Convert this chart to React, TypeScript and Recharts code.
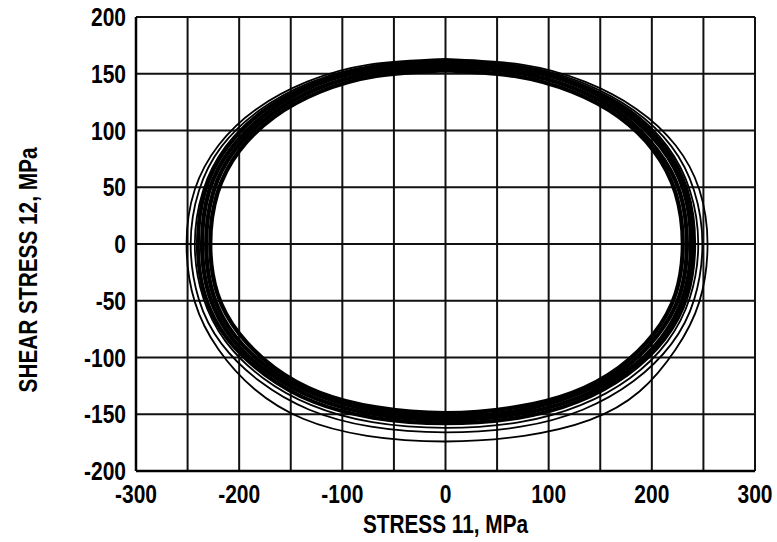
import { ScatterChart, Scatter, XAxis, YAxis, CartesianGrid } from 'recharts';

// axis ticks (gridlines every 50, x labels every 100)
const X_TICKS = [-300, -250, -200, -150, -100, -50, 0, 50, 100, 150, 200, 250, 300];
const X_LABELED = [-300, -200, -100, 0, 100, 200, 300];
const Y_TICKS = [-200, -150, -100, -50, 0, 50, 100, 150, 200];

const BAND_1: [number, number][] = [
  [0, 153], [67, 148], [123, 134], [168, 112], [202, 82], [223, 45], [230, 0],
  [223, -44], [202, -79], [168, -109], [123, -131], [67, -144], [0, -149],
  [-67, -144], [-122, -131], [-166, -109], [-200, -79], [-221, -44], [-228, 0],
  [-221, 45], [-200, 82], [-166, 112], [-122, 134], [-67, 148], [0, 153],
];
const BAND_2: [number, number][] = [
  [0, 156], [69, 151], [125, 137], [171, 114], [205, 83], [227, 46], [234, 0],
  [227, -45], [205, -81], [171, -111], [125, -133], [69, -147], [0, -152],
  [-68, -147], [-124, -133], [-169, -111], [-204, -81], [-225, -45], [-232, 0],
  [-225, 46], [-204, 83], [-169, 114], [-124, 137], [-68, 151], [0, 156],
];
const BAND_3: [number, number][] = [
  [0, 159], [70, 154], [127, 140], [174, 116], [209, 85], [231, 47], [238, 0],
  [231, -45], [209, -83], [174, -113], [127, -136], [70, -150], [0, -155],
  [-69, -150], [-126, -136], [-172, -113], [-207, -83], [-229, -45], [-236, 0],
  [-229, 47], [-207, 85], [-172, 116], [-126, 140], [-69, 154], [0, 159],
];
const BAND_4: [number, number][] = [
  [0, 161], [71, 156], [128, 141], [176, 118], [212, 86], [234, 47], [241, 0],
  [234, -46], [212, -84], [176, -115], [128, -139], [71, -153], [0, -158],
  [-70, -153], [-128, -139], [-175, -115], [-211, -84], [-233, -46], [-240, 0],
  [-233, 47], [-211, 86], [-175, 118], [-128, 141], [-70, 156], [0, 161],
];
const OUTER_1: [number, number][] = [
  [0, 161], [72, 156], [131, 141], [179, 118], [215, 86], [237, 47], [245, 0],
  [237, -47], [215, -86], [179, -118], [131, -142], [72, -157], [0, -162],
  [-71, -157], [-130, -142], [-177, -118], [-213, -86], [-235, -47], [-243, 0],
  [-235, 47], [-213, 86], [-177, 118], [-130, 141], [-71, 156], [0, 161],
];
const OUTER_2: [number, number][] = [
  [0, 162], [73, 157], [133, 142], [182, 118], [219, 86], [241, 47], [249, 0],
  [241, -49], [219, -88], [182, -121], [133, -146], [73, -161], [0, -166],
  [-72, -161], [-132, -146], [-180, -121], [-217, -88], [-239, -49], [-247, 0],
  [-239, 47], [-217, 86], [-180, 118], [-132, 142], [-72, 157], [0, 162],
];
const OUTER_3: [number, number][] = [
  [0, 163], [74, 158], [135, 143], [185, 119], [223, 87], [246, 48], [254, 0],
  [246, -51], [223, -93], [188, -130], [140, -155], [76, -169], [0, -174],
  [-76, -169], [-138, -154], [-185, -128], [-220, -93], [-243, -51], [-251, 0],
  [-243, 48], [-220, 87], [-183, 119], [-134, 143], [-74, 158], [0, 163],
];

const LOOPS = [
  { name: 'band1', pts: BAND_1, width: 4.2 },
  { name: 'band2', pts: BAND_2, width: 4.2 },
  { name: 'band3', pts: BAND_3, width: 4.2 },
  { name: 'band4', pts: BAND_4, width: 4 },
  { name: 'outer1', pts: OUTER_1, width: 1.8 },
  { name: 'outer2', pts: OUTER_2, width: 1.8 },
  { name: 'outer3', pts: OUTER_3, width: 1.8 },
];

// no narrow face installed, so squeeze Liberation Sans Bold horizontally
const FONT = '"Liberation Sans", Arial, sans-serif';
const SQUEEZE = 0.8;
const TICK_SQUEEZE = 0.84;

const noDot = () => <g />;

const XTick = ({ x, y, payload }: any) => {
  if (!X_LABELED.includes(payload.value)) return <g />;
  return (
    <g transform={`translate(${x},${y})`}>
      <text
        transform={`scale(${TICK_SQUEEZE},1)`}
        y={20}
        textAnchor="middle"
        fontFamily={FONT}
        fontSize={25}
        fontWeight={700}
        fill="#000"
      >
        {String(payload.value)}
      </text>
    </g>
  );
};

const YTick = ({ x, y, payload }: any) => (
  <g transform={`translate(${x},${y})`}>
    <text
      transform={`scale(${TICK_SQUEEZE},1)`}
      y={9}
      textAnchor="end"
      fontFamily={FONT}
      fontSize={25}
      fontWeight={700}
      fill="#000"
    >
      {String(payload.value)}
    </text>
  </g>
);

const XTitle = ({ viewBox }: any) => (
  <g transform={`translate(${viewBox.x + viewBox.width / 2},${viewBox.y + viewBox.height - 9})`}>
    <text
      transform={`scale(${SQUEEZE},1)`}
      textAnchor="middle"
      fontFamily={FONT}
      fontSize={26}
      fontWeight={700}
      fill="#000"
    >
      STRESS 11, MPa
    </text>
  </g>
);

const YTitle = () => (
  <g transform="translate(37,270) rotate(-90)">
    <text
      transform={`scale(${SQUEEZE},1)`}
      textAnchor="middle"
      fontFamily={FONT}
      fontSize={26}
      fontWeight={700}
      fill="#000"
    >
      SHEAR STRESS 12, MPa
    </text>
  </g>
);

export default function App() {
  return (
    <div style={{ position: 'absolute', left: 0, top: 0, background: '#fff' }}>
      <ScatterChart width={777} height={542} margin={{ top: 17, right: 22, bottom: 0, left: 0 }}>
        <CartesianGrid stroke="#111" strokeWidth={2} />
        <XAxis
          type="number"
          dataKey="x"
          domain={[-300, 300]}
          ticks={X_TICKS}
          interval={0}
          tick={<XTick />}
          tickLine={false}
          tickMargin={6}
          axisLine={{ stroke: '#000', strokeWidth: 2.5 }}
          height={71}
          allowDataOverflow
          label={<XTitle />}
        />
        <YAxis
          type="number"
          dataKey="y"
          domain={[-200, 200]}
          ticks={Y_TICKS}
          interval={0}
          tick={<YTick />}
          tickLine={false}
          tickMargin={4}
          axisLine={{ stroke: '#000', strokeWidth: 2.5 }}
          width={136}
          allowDataOverflow
          label={<YTitle />}
        />
        {LOOPS.map((loop) => (
          <Scatter
            key={loop.name}
            data={loop.pts.map(([x, y]) => ({ x, y }))}
            line={{ stroke: '#000', strokeWidth: loop.width }}
            lineType="joint"
            lineJointType="natural"
            shape={noDot}
            fill="#000"
            isAnimationActive={false}
          />
        ))}
      </ScatterChart>
    </div>
  );
}
